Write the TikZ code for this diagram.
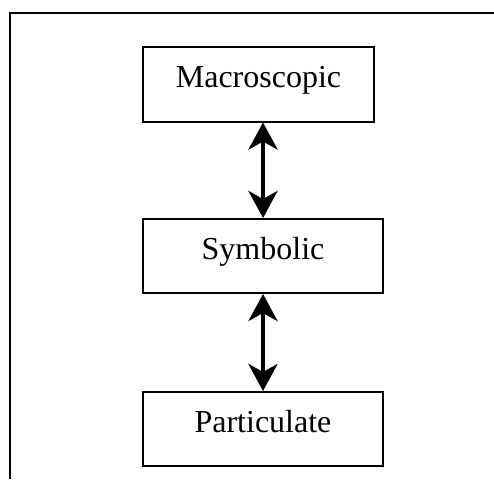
\documentclass[tikz,border=0pt]{standalone}
\usepackage{fontspec}
\setmainfont{Liberation Serif}
\usetikzlibrary{arrows.meta}
\begin{document}
\begin{tikzpicture}[x=1pt,y=-1pt,
  boxnode/.style={draw=black, line width=2pt, inner sep=0pt, text height=21pt, text depth=13.8pt, font=\fontsize{32}{36}\selectfont},
  tip/.tip={Stealth[length=27pt,width=29pt,inset=8pt]},
  link/.style={line width=4.5pt, tip-tip},
  frame/.style={line width=1.6pt}]
\useasboundingbox (0,0) rectangle (494,479);
\node[boxnode, minimum width=231pt, minimum height=75pt] (macro) at (258.5,84) {Macroscopic};
\node[boxnode, minimum width=240pt, minimum height=74pt] (symb) at (263,256) {Symbolic};
\node[boxnode, minimum width=240pt, minimum height=74pt] (part) at (263,429) {Particulate};
\coordinate (fa) at (10,479);
\coordinate (fb) at (10,13);
\coordinate (fc) at (494,13);
\draw[frame] (fa) -- (fb) -- (fc);
\draw[link] (macro.south -| symb.north) -- (symb.north);
\draw[link] (symb.south) -- (part.north);
\end{tikzpicture}
\end{document}
